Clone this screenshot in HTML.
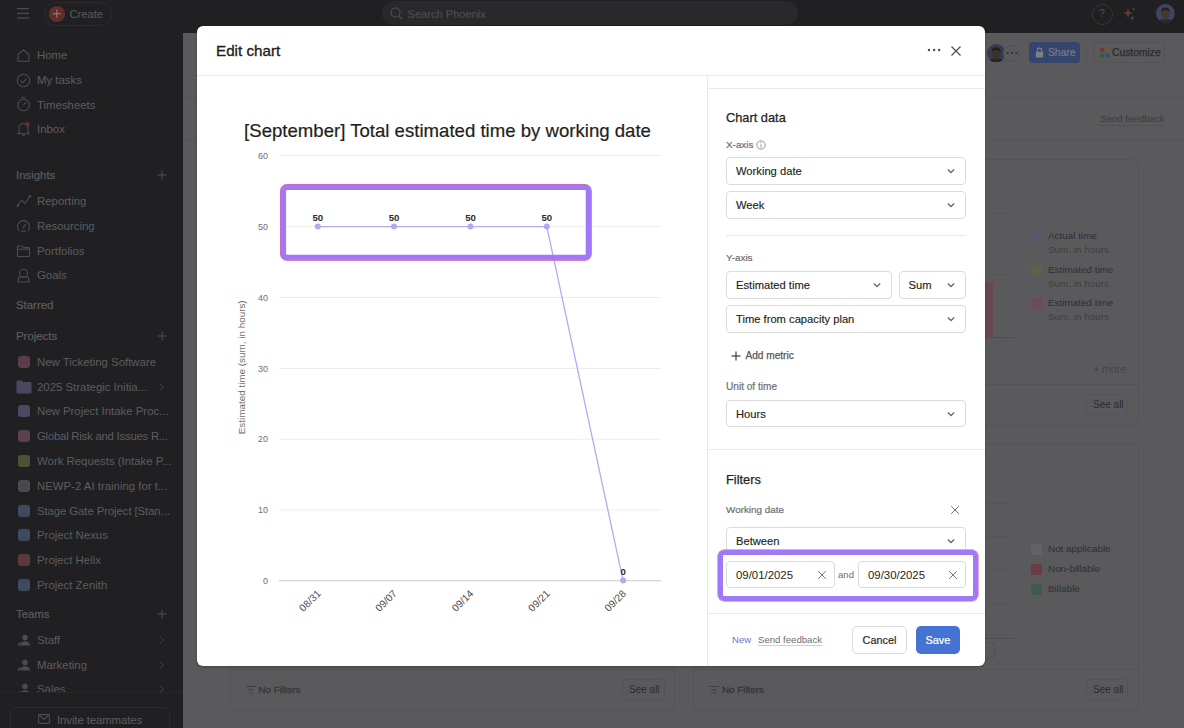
<!DOCTYPE html>
<html><head><meta charset="utf-8">
<style>
*{box-sizing:border-box;margin:0;padding:0}
html,body{width:1184px;height:728px;overflow:hidden;background:#202022;font-family:"Liberation Sans",sans-serif}
.a{position:absolute}
#side{left:0;top:0;width:183px;height:728px;background:#202022}
.si{position:absolute;left:37px;font-size:11.4px;color:#5d5d5f;white-space:nowrap;line-height:14px}
.sh{position:absolute;left:16px;font-size:11.4px;color:#5d5d5f;white-space:nowrap;line-height:14px;-webkit-text-stroke:0.2px #5d5d5f}
.pic{position:absolute;left:17.5px;width:12.5px;height:12px;border-radius:3px}
#main{left:183px;top:33px;width:1001px;height:695px;background:#5a5a5c}
#modal{left:197px;top:26px;width:788px;height:640px;background:#fff;border-radius:6px;overflow:hidden;box-shadow:0 1px 3px rgba(0,0,0,0.25)}
</style></head><body>
<div id="side" class="a">
<svg class="a" style="left:16px;top:7px" width="14" height="13"><g stroke="#4d4d4f" stroke-width="1.3"><line x1="1" y1="1.6" x2="13" y2="1.6"/><line x1="1" y1="6.3" x2="13" y2="6.3"/><line x1="1" y1="11" x2="13" y2="11"/></g></svg>
<div class="a" style="left:43.5px;top:1.5px;width:68.5px;height:24px;border:1px solid #2c2c2e;border-radius:12px"></div>
<div class="a" style="left:49px;top:6px;width:15.5px;height:15.5px;border-radius:50%;background:#642d29"></div>
<svg class="a" style="left:49px;top:6px" width="16" height="16"><g stroke="#8a8a8a" stroke-width="1"><line x1="3.7" y1="7.75" x2="11.8" y2="7.75"/><line x1="7.75" y1="3.7" x2="7.75" y2="11.8"/></g></svg>
<div class="a" style="left:69.5px;top:6.5px;font-size:11.2px;color:#5b5b5d;line-height:14px">Create</div>
<svg class="a" style="left:16px;top:48px" width="15" height="15"><path d="M2 6.5 L7.5 1.8 L13 6.5 V13.2 H2 Z" fill="none" stroke="#4d4d4f" stroke-width="1.1" stroke-linejoin="round"/></svg>
<div class="si" style="top:48.0px;">Home</div>
<svg class="a" style="left:16px;top:73px" width="15" height="15"><circle cx="7.5" cy="7.5" r="6.3" fill="none" stroke="#4d4d4f" stroke-width="1.1"/><path d="M4.6 7.6 L6.7 9.6 L10.5 5.6" fill="none" stroke="#4d4d4f" stroke-width="1.1"/></svg>
<div class="si" style="top:73.0px;">My tasks</div>
<svg class="a" style="left:16px;top:96px" width="15" height="16"><circle cx="7.5" cy="9" r="5.8" fill="none" stroke="#4d4d4f" stroke-width="1.1"/><line x1="5.5" y1="1.5" x2="9.5" y2="1.5" stroke="#4d4d4f" stroke-width="1.1"/><line x1="7.5" y1="9" x2="9.8" y2="6.6" stroke="#4d4d4f" stroke-width="1.1"/></svg>
<div class="si" style="top:97.5px;">Timesheets</div>
<svg class="a" style="left:16px;top:121px" width="15" height="16"><path d="M3 11.5 V7 a4.5 4.5 0 0 1 9 0 V11.5 L13.3 12.8 H1.7 Z" fill="none" stroke="#4d4d4f" stroke-width="1.1" stroke-linejoin="round"/><path d="M6 14.3 H9" stroke="#4d4d4f" stroke-width="1.1"/><circle cx="11.3" cy="3.2" r="2.3" fill="#6b2d28"/></svg>
<div class="si" style="top:122.0px;">Inbox</div>
<div class="sh" style="top:168.0px;">Insights</div>
<svg class="a" style="left:157px;top:170.0px" width="10" height="10"><g stroke="#4d4d4f" stroke-width="1.1"><line x1="0.5" y1="5" x2="9.5" y2="5"/><line x1="5" y1="0.5" x2="5" y2="9.5"/></g></svg>
<svg class="a" style="left:16px;top:194px" width="16" height="14"><path d="M1.5 12 L5.5 6 L9 9.5 L14 2" fill="none" stroke="#4d4d4f" stroke-width="1.1"/><circle cx="1.8" cy="11.8" r="1.2" fill="#4d4d4f"/><circle cx="14" cy="2.2" r="1.2" fill="#4d4d4f"/></svg>
<div class="si" style="top:194.0px;">Reporting</div>
<svg class="a" style="left:16px;top:219px" width="15" height="14"><path d="M3.2 11.8 a6 6 0 1 1 8.6 0" fill="none" stroke="#4d4d4f" stroke-width="1.1"/><path d="M5 12.2 H10" stroke="#4d4d4f" stroke-width="1.1"/><path d="M7.5 8.5 L9.6 5" stroke="#4d4d4f" stroke-width="1.1"/><circle cx="7.5" cy="8.5" r="1" fill="#4d4d4f"/></svg>
<div class="si" style="top:219.0px;">Resourcing</div>
<svg class="a" style="left:16px;top:244px" width="15" height="14"><path d="M1.5 2 H6 L7.3 3.6 H13.5 V12.5 H1.5 Z M1.5 5.3 H13.5" fill="none" stroke="#4d4d4f" stroke-width="1.1" stroke-linejoin="round"/></svg>
<div class="si" style="top:243.7px;">Portfolios</div>
<svg class="a" style="left:16px;top:268px" width="15" height="15"><circle cx="7.5" cy="5.2" r="4" fill="none" stroke="#4d4d4f" stroke-width="1.1"/><path d="M2 14 V12 a3 3 0 0 1 3-3 H10 a3 3 0 0 1 3 3 V14 Z" fill="none" stroke="#4d4d4f" stroke-width="1.1"/></svg>
<div class="si" style="top:268.4px;">Goals</div>
<div class="sh" style="top:297.6px;">Starred</div>
<div class="sh" style="top:328.6px;">Projects</div>
<svg class="a" style="left:157px;top:330.6px" width="10" height="10"><g stroke="#4d4d4f" stroke-width="1.1"><line x1="0.5" y1="5" x2="9.5" y2="5"/><line x1="5" y1="0.5" x2="5" y2="9.5"/></g></svg>
<div class="pic" style="top:356.0px;background:#5a3d48"></div>
<div class="si" style="top:355.0px;">New Ticketing Software</div>
<svg class="a" style="left:15.5px;top:379.6px" width="16" height="14"><path d="M0.5 1.5 Q0.5 0.5 1.5 0.5 H5.5 L7 2 H14.5 Q15.5 2 15.5 3 V12.5 Q15.5 13.5 14.5 13.5 H1.5 Q0.5 13.5 0.5 12.5 Z" fill="#4a4760"/></svg>
<svg class="a" style="left:159px;top:382.6px" width="6" height="8"><path d="M1 0.8 L4.5 4 L1 7.2" fill="none" stroke="#444446" stroke-width="1"/></svg>
<div class="si" style="top:379.6px;">2025 Strategic Initia...</div>
<div class="pic" style="top:405.0px;background:#4c4860"></div>
<div class="si" style="top:404.0px;">New Project Intake Proc...</div>
<div class="pic" style="top:430.0px;background:#5a4152"></div>
<div class="si" style="top:429.0px;letter-spacing:-0.25px">Global Risk and Issues R...</div>
<div class="pic" style="top:455.0px;background:#4a5238"></div>
<div class="si" style="top:454.0px;">Work Requests (Intake P...</div>
<div class="pic" style="top:479.6px;background:#4a4a4c"></div>
<div class="si" style="top:478.6px;">NEWP-2 AI training for t...</div>
<div class="pic" style="top:504.7px;background:#3f4a5e"></div>
<div class="si" style="top:503.7px;letter-spacing:-0.1px">Stage Gate Project [Stan...</div>
<div class="pic" style="top:529.2px;background:#3f4a5e"></div>
<div class="si" style="top:528.2px;">Project Nexus</div>
<div class="pic" style="top:553.7px;background:#5a3a38"></div>
<div class="si" style="top:552.7px;">Project Helix</div>
<div class="pic" style="top:578.8px;background:#3f4a5e"></div>
<div class="si" style="top:577.8px;">Project Zenith</div>
<div class="sh" style="top:607.0px;">Teams</div>
<svg class="a" style="left:157px;top:609.0px" width="10" height="10"><g stroke="#4d4d4f" stroke-width="1.1"><line x1="0.5" y1="5" x2="9.5" y2="5"/><line x1="5" y1="0.5" x2="5" y2="9.5"/></g></svg>
<svg class="a" style="left:16.5px;top:634.0px" width="14" height="12"><g fill="#4d4d4f"><path d="M5.2 1.2 a2.6 2.6 0 0 0 0 4.6 a3.2 3.2 0 0 1 0-4.6 Z"/><circle cx="8" cy="3.5" r="2.7"/><path d="M3 11.5 a5 4.2 0 0 1 10 0 Z"/><path d="M0.5 11.5 a3.5 3.5 0 0 1 3.2-3.3 a5.5 5 0 0 0 -1.2 3.3 Z"/></g></svg>
<div class="si" style="top:633.0px;">Staff</div>
<svg class="a" style="left:159px;top:636.0px" width="6" height="8"><path d="M1 0.8 L4.5 4 L1 7.2" fill="none" stroke="#444446" stroke-width="1"/></svg>
<svg class="a" style="left:16.5px;top:659.0px" width="14" height="12"><g fill="#4d4d4f"><path d="M5.2 1.2 a2.6 2.6 0 0 0 0 4.6 a3.2 3.2 0 0 1 0-4.6 Z"/><circle cx="8" cy="3.5" r="2.7"/><path d="M3 11.5 a5 4.2 0 0 1 10 0 Z"/><path d="M0.5 11.5 a3.5 3.5 0 0 1 3.2-3.3 a5.5 5 0 0 0 -1.2 3.3 Z"/></g></svg>
<div class="si" style="top:658.0px;">Marketing</div>
<svg class="a" style="left:159px;top:661.0px" width="6" height="8"><path d="M1 0.8 L4.5 4 L1 7.2" fill="none" stroke="#444446" stroke-width="1"/></svg>
<svg class="a" style="left:16.5px;top:683.0px" width="14" height="12"><g fill="#4d4d4f"><path d="M5.2 1.2 a2.6 2.6 0 0 0 0 4.6 a3.2 3.2 0 0 1 0-4.6 Z"/><circle cx="8" cy="3.5" r="2.7"/><path d="M3 11.5 a5 4.2 0 0 1 10 0 Z"/><path d="M0.5 11.5 a3.5 3.5 0 0 1 3.2-3.3 a5.5 5 0 0 0 -1.2 3.3 Z"/></g></svg>
<div class="si" style="top:682.0px;">Sales</div>
<svg class="a" style="left:159px;top:685.0px" width="6" height="8"><path d="M1 0.8 L4.5 4 L1 7.2" fill="none" stroke="#444446" stroke-width="1"/></svg>
<div class="a" style="left:0;top:692px;width:183px;height:36px;background:#202022;border-top:1px solid #262628"></div>
<div class="a" style="left:10px;top:707px;width:160px;height:30px;border:1px solid #2c2c2e;border-radius:5px"></div>
<svg class="a" style="left:38px;top:714px" width="12" height="10"><rect x="0.6" y="0.6" width="10.8" height="8.8" rx="1" fill="none" stroke="#4d4d4f" stroke-width="1.1"/><path d="M0.8 1 L6 5.2 L11.2 1" fill="none" stroke="#4d4d4f" stroke-width="1.1"/></svg>
<div class="si" style="left:57px;top:712.5px;letter-spacing:-0.1px">Invite teammates</div>
</div>
<div id="main" class="a">
<div class="a" style="left:0.0px;top:64.0px;width:1001.0px;height:1.0px;background:#555557"></div>
<div class="a" style="left:0.0px;top:107.0px;width:1001.0px;height:1.0px;background:#555557"></div>
<div class="a" style="left:917.0px;top:80.0px;font-size:9.7px;color:#3a3a3c;line-height:12px;white-space:nowrap;border-bottom:1px solid #515153;line-height:11.5px">Send feedback</div>
<svg class="a" style="left:803.80px;top:10.80px" width="18.40" height="18.40" viewBox="0 0 20 20"><defs><clipPath id="c996"><circle cx="10" cy="10" r="10"/></clipPath></defs><g clip-path="url(#c996)"><rect width="20" height="20" fill="#363a52"/><ellipse cx="10" cy="21" rx="9" ry="5.5" fill="#252523"/><rect x="8" y="13" width="4" height="4" fill="#3c302a"/><ellipse cx="10" cy="10" rx="4.6" ry="5.6" fill="#3c302a"/><path d="M5.2 9 Q5 3.6 10 3.6 Q15 3.6 14.8 9 Q13.5 6.2 10 6.4 Q6.5 6.2 5.2 9 Z" fill="#1f1d1c"/></g></svg>
<div class="a" style="left:820.0px;top:11.5px;width:17.0px;height:17.0px;border-radius:50%;border:1px solid #535355;background:#5a5a5c"></div>
<svg class="a" style="left:822.8px;top:18.0px" width="12" height="4"><g fill="#303032"><circle cx="1.6" cy="2" r="1.1"/><circle cx="6" cy="2" r="1.1"/><circle cx="10.4" cy="2" r="1.1"/></g></svg>
<div class="a" style="left:846.0px;top:9.0px;width:51.0px;height:21.0px;border-radius:4px;background:#34466e"></div>
<svg class="a" style="left:852.0px;top:14.0px" width="9" height="11"><path d="M2.3 5 V3.3 a2.2 2.2 0 0 1 4.4 0 V5" fill="none" stroke="#7d7f86" stroke-width="1.1"/><rect x="0.8" y="4.8" width="7.4" height="5.6" rx="1" fill="#7d7f86"/></svg>
<div class="a" style="left:865.0px;top:13.0px;font-size:10.3px;color:#7a7c84;line-height:14px;white-space:nowrap;-webkit-text-stroke:0.2px #7a7c84">Share</div>
<div class="a" style="left:903.0px;top:8.0px;width:1.0px;height:23.0px;background:#555557"></div>
<div class="a" style="left:910.0px;top:9.0px;width:72.0px;height:21.0px;border-radius:4px;border:1px solid #535355"></div>
<svg class="a" style="left:917.0px;top:15.0px" width="10" height="10"><rect x="0" y="0" width="4.3" height="4.3" rx="0.8" fill="#6b3a3a"/><rect x="5.5" y="0" width="4.3" height="4.3" rx="0.8" fill="#6b5a3a"/><rect x="0" y="5.5" width="4.3" height="4.3" rx="0.8" fill="#3a5a3f"/><rect x="5.5" y="5.5" width="4.3" height="4.3" rx="0.8" fill="#3e4a6b"/></svg>
<div class="a" style="left:929.0px;top:13.0px;font-size:10.3px;color:#2b2b2d;line-height:14px;white-space:nowrap;-webkit-text-stroke:0.25px #2b2b2d">Customize</div>
<div class="a" style="left:47.0px;top:126.0px;width:445.0px;height:267.0px;border:1px solid #545456;border-radius:7px"></div>
<div class="a" style="left:47.0px;top:410.0px;width:445.0px;height:268.0px;border:1px solid #545456;border-radius:7px"></div>
<div class="a" style="left:47.0px;top:351.0px;width:445.0px;height:1.0px;background:#545456"></div>
<div class="a" style="left:47.0px;top:636.0px;width:445.0px;height:1.0px;background:#545456"></div>
<div class="a" style="left:510.0px;top:126.0px;width:446.0px;height:267.0px;border:1px solid #545456;border-radius:7px"></div>
<div class="a" style="left:510.0px;top:410.0px;width:446.0px;height:268.0px;border:1px solid #545456;border-radius:7px"></div>
<div class="a" style="left:510.0px;top:351.0px;width:446.0px;height:1.0px;background:#545456"></div>
<div class="a" style="left:510.0px;top:636.0px;width:446.0px;height:1.0px;background:#545456"></div>
<div class="a" style="left:802.0px;top:179.5px;width:29.0px;height:1.0px;background:#555557"></div>
<div class="a" style="left:802.0px;top:240.5px;width:29.0px;height:1.0px;background:#555557"></div>
<div class="a" style="left:802.0px;top:303.5px;width:29.0px;height:1.0px;background:#4f4f51"></div>
<div class="a" style="left:802.0px;top:249.0px;width:8.0px;height:55.0px;background:#6a4650"></div>
<div class="a" style="left:848.0px;top:197.6px;width:10.5px;height:10.5px;border-radius:2px;background:#57566f"></div>
<div class="a" style="left:865.0px;top:195.6px;font-size:9.9px;color:#2f2f31;line-height:14px;white-space:nowrap;">Actual time</div>
<div class="a" style="left:865.0px;top:209.6px;font-size:9.9px;color:#3f3f41;line-height:14px;white-space:nowrap;">Sum, in hours</div>
<div class="a" style="left:848.0px;top:231.5px;width:10.5px;height:10.5px;border-radius:2px;background:#5b6546"></div>
<div class="a" style="left:865.0px;top:229.5px;font-size:9.9px;color:#2f2f31;line-height:14px;white-space:nowrap;">Estimated time</div>
<div class="a" style="left:865.0px;top:243.5px;font-size:9.9px;color:#3f3f41;line-height:14px;white-space:nowrap;">Sum, in hours</div>
<div class="a" style="left:848.0px;top:265.3px;width:10.5px;height:10.5px;border-radius:2px;background:#6d4a5b"></div>
<div class="a" style="left:865.0px;top:263.3px;font-size:9.9px;color:#2f2f31;line-height:14px;white-space:nowrap;">Estimated time</div>
<div class="a" style="left:865.0px;top:277.3px;font-size:9.9px;color:#3f3f41;line-height:14px;white-space:nowrap;">Sum, in hours</div>
<div class="a" style="left:910.0px;top:328.8px;font-size:10.5px;color:#444446;line-height:14px;white-space:nowrap;">+ more</div>
<div class="a" style="left:903.0px;top:361.0px;width:42.0px;height:21.0px;border:1px solid #545456;border-radius:4px"></div>
<div class="a" style="left:910.0px;top:364.5px;font-size:10px;color:#2c2c2e;line-height:14px;white-space:nowrap;">See all</div>
<div class="a" style="left:802.0px;top:470.4px;width:29.0px;height:1.0px;background:#555557"></div>
<div class="a" style="left:802.0px;top:503.4px;width:29.0px;height:1.0px;background:#555557"></div>
<div class="a" style="left:802.0px;top:536.4px;width:29.0px;height:1.0px;background:#555557"></div>
<div class="a" style="left:802.0px;top:571.0px;width:29.0px;height:1.0px;background:#555557"></div>
<div class="a" style="left:802.0px;top:605.0px;width:29.0px;height:1.0px;background:#4f4f51"></div>
<div class="a" style="left:848.0px;top:511.0px;width:10.5px;height:10.5px;border-radius:2px;background:#626264"></div>
<div class="a" style="left:865.0px;top:509.0px;font-size:9.9px;color:#2f2f31;line-height:14px;white-space:nowrap;">Not applicable</div>
<div class="a" style="left:848.0px;top:531.4px;width:10.5px;height:10.5px;border-radius:2px;background:#6a3d45"></div>
<div class="a" style="left:865.0px;top:529.4px;font-size:9.9px;color:#2f2f31;line-height:14px;white-space:nowrap;">Non-billable</div>
<div class="a" style="left:848.0px;top:551.3px;width:10.5px;height:10.5px;border-radius:2px;background:#3d5a4b"></div>
<div class="a" style="left:865.0px;top:549.3px;font-size:9.9px;color:#2f2f31;line-height:14px;white-space:nowrap;">Billable</div>
<div class="a" style="left:796.0px;top:609.0px;width:17.0px;height:17.0px;border-radius:50%;border:1px dashed #4a4a4c"></div>
<div class="a" style="left:903.0px;top:646.0px;width:42.0px;height:21.0px;border:1px solid #545456;border-radius:4px"></div>
<div class="a" style="left:910.0px;top:649.5px;font-size:10px;color:#2c2c2e;line-height:14px;white-space:nowrap;">See all</div>
<div class="a" style="left:439.0px;top:646.0px;width:43.0px;height:21.0px;border:1px solid #545456;border-radius:4px"></div>
<div class="a" style="left:446.0px;top:649.5px;font-size:10px;color:#2c2c2e;line-height:14px;white-space:nowrap;">See all</div>
<svg class="a" style="left:63.0px;top:652.5px" width="10" height="8"><g stroke="#3f3f41" stroke-width="1"><line x1="0" y1="0.5" x2="10" y2="0.5"/><line x1="2" y1="3.8" x2="8" y2="3.8"/><line x1="3.5" y1="7" x2="6.5" y2="7"/></g></svg>
<div class="a" style="left:75.5px;top:649.5px;font-size:9.8px;color:#363638;line-height:14px;white-space:nowrap;-webkit-text-stroke:0.3px #363638">No Filters</div>
<svg class="a" style="left:526.0px;top:652.5px" width="10" height="8"><g stroke="#3f3f41" stroke-width="1"><line x1="0" y1="0.5" x2="10" y2="0.5"/><line x1="2" y1="3.8" x2="8" y2="3.8"/><line x1="3.5" y1="7" x2="6.5" y2="7"/></g></svg>
<div class="a" style="left:539.0px;top:649.5px;font-size:9.8px;color:#363638;line-height:14px;white-space:nowrap;-webkit-text-stroke:0.3px #363638">No Filters</div>
</div>
<div class="a" style="left:382px;top:1.2px;width:416px;height:23.5px;border-radius:12px;background:#29292b"></div>
<svg class="a" style="left:390px;top:7px" width="13" height="13"><circle cx="5.5" cy="5.5" r="4.5" fill="none" stroke="#505052" stroke-width="1.1"/><line x1="8.8" y1="8.8" x2="12" y2="12" stroke="#505052" stroke-width="1.1"/></svg>
<div class="a" style="left:407.5px;top:6.5px;font-size:11.1px;color:#4e4e50;line-height:14px;-webkit-text-stroke:0.15px #4e4e50">Search Phoenix</div>
<div class="a" style="left:1091.5px;top:3.5px;width:21px;height:21px;border-radius:50%;border:1px solid #38383a"></div>
<div class="a" style="left:1091.5px;top:7px;width:21px;text-align:center;font-size:10px;color:#505052;line-height:14px">?</div>
<svg class="a" style="left:1122px;top:6px" width="16" height="16"><path d="M6 2 L7.2 5.8 L11 7 L7.2 8.2 L6 12 L4.8 8.2 L1 7 L4.8 5.8 Z" fill="#6b3a36"/><path d="M10.3 9.6 l0.7 1.8 l1.8 0.7 l-1.8 0.7 l-0.7 1.8 l-0.7-1.8 l-1.8-0.7 l1.8-0.7 Z" fill="#3e4a6b"/><path d="M11.5 1 l0.5 1.4 l1.4 0.5 l-1.4 0.5 l-0.5 1.4 l-0.5-1.4 l-1.4-0.5 l1.4-0.5 Z" fill="#6b3a36"/></svg>
<svg class="a" style="left:1156.40px;top:4.00px" width="18.80" height="18.80" viewBox="0 0 20 20"><defs><clipPath id="c1165"><circle cx="10" cy="10" r="10"/></clipPath></defs><g clip-path="url(#c1165)"><rect width="20" height="20" fill="#3f4463"/><ellipse cx="10" cy="21" rx="9" ry="5.5" fill="#2a2a28"/><rect x="8" y="13" width="4" height="4" fill="#45372f"/><ellipse cx="10" cy="10" rx="4.6" ry="5.6" fill="#45372f"/><path d="M5.2 9 Q5 3.6 10 3.6 Q15 3.6 14.8 9 Q13.5 6.2 10 6.4 Q6.5 6.2 5.2 9 Z" fill="#232120"/></g></svg>
<div id="modal" class="a">
<div class="a" style="left:19.00px;top:14.80px;font-size:15.2px;color:#1e1f21;line-height:20px;white-space:nowrap;-webkit-text-stroke:0.35px #1e1f21">Edit chart</div>
<svg class="a" style="left:729.60px;top:21.20px" width="16" height="6"><g fill="#505052"><circle cx="2" cy="3" r="1.25"/><circle cx="7.1" cy="3" r="1.25"/><circle cx="12.1" cy="3" r="1.25"/></g></svg>
<svg class="a" style="left:752.50px;top:18.50px" width="12" height="12"><g stroke="#505052" stroke-width="1.3"><line x1="1.5" y1="1.5" x2="10.5" y2="10.5"/><line x1="10.5" y1="1.5" x2="1.5" y2="10.5"/></g></svg>
<div class="a" style="left:0.00px;top:48.50px;width:788.00px;height:1.00px;background:#e9e9e9"></div>
<div class="a" style="left:510.00px;top:49.00px;width:1.00px;height:591.00px;background:#e9e9e9"></div>
<div class="a" style="left:511.00px;top:61.50px;width:277.00px;height:1.00px;background:#e9e9e9"></div>
<svg class="a" style="left:0;top:0" width="510" height="640" viewBox="197 26 510 640" font-family="Liberation Sans, sans-serif"><line x1="279" y1="155.6" x2="661.5" y2="155.6" stroke="#eeede6" stroke-width="1"/><text x="268" y="158.79999999999998" text-anchor="end" font-size="9" fill="#6d6e6f">60</text><line x1="279" y1="226.6" x2="661.5" y2="226.6" stroke="#eeede6" stroke-width="1"/><text x="268" y="229.79999999999998" text-anchor="end" font-size="9" fill="#6d6e6f">50</text><line x1="279" y1="297.5" x2="661.5" y2="297.5" stroke="#eeede6" stroke-width="1"/><text x="268" y="300.7" text-anchor="end" font-size="9" fill="#6d6e6f">40</text><line x1="279" y1="368.4" x2="661.5" y2="368.4" stroke="#eeede6" stroke-width="1"/><text x="268" y="371.59999999999997" text-anchor="end" font-size="9" fill="#6d6e6f">30</text><line x1="279" y1="439.2" x2="661.5" y2="439.2" stroke="#eeede6" stroke-width="1"/><text x="268" y="442.4" text-anchor="end" font-size="9" fill="#6d6e6f">20</text><line x1="279" y1="510" x2="661.5" y2="510" stroke="#eeede6" stroke-width="1"/><text x="268" y="513.2" text-anchor="end" font-size="9" fill="#6d6e6f">10</text><text x="268" y="583.8000000000001" text-anchor="end" font-size="9" fill="#6d6e6f">0</text><line x1="279" y1="580.6" x2="661.5" y2="580.6" stroke="#d4d4d4" stroke-width="1.3"/><polyline points="317.8,226.6 394,226.6 470.5,226.6 546.8,226.6 623.1,580.6" fill="none" stroke="#b5abf2" stroke-width="1.3"/><circle cx="317.8" cy="226.6" r="3" fill="#b3a9f3"/><text x="317.8" y="221.4" text-anchor="middle" font-size="9.6" font-weight="bold" fill="#2a2b2d">50</text><text transform="translate(321.40000000000003,594.3) rotate(-45)" text-anchor="end" font-size="10.2" fill="#4a4b4d">08/31</text><circle cx="394" cy="226.6" r="3" fill="#b3a9f3"/><text x="394" y="221.4" text-anchor="middle" font-size="9.6" font-weight="bold" fill="#2a2b2d">50</text><text transform="translate(397.6,594.3) rotate(-45)" text-anchor="end" font-size="10.2" fill="#4a4b4d">09/07</text><circle cx="470.5" cy="226.6" r="3" fill="#b3a9f3"/><text x="470.5" y="221.4" text-anchor="middle" font-size="9.6" font-weight="bold" fill="#2a2b2d">50</text><text transform="translate(474.1,594.3) rotate(-45)" text-anchor="end" font-size="10.2" fill="#4a4b4d">09/14</text><circle cx="546.8" cy="226.6" r="3" fill="#b3a9f3"/><text x="546.8" y="221.4" text-anchor="middle" font-size="9.6" font-weight="bold" fill="#2a2b2d">50</text><text transform="translate(550.4,594.3) rotate(-45)" text-anchor="end" font-size="10.2" fill="#4a4b4d">09/21</text><circle cx="623.1" cy="580.6" r="3" fill="#b3a9f3"/><text x="623.1" y="575.4" text-anchor="middle" font-size="9.6" font-weight="bold" fill="#2a2b2d">0</text><text transform="translate(626.7,594.3) rotate(-45)" text-anchor="end" font-size="10.2" fill="#4a4b4d">09/28</text><text transform="translate(245,367.3) rotate(-90)" text-anchor="middle" font-size="9.9" fill="#6d6e6f">Estimated time (sum, in hours)</text><text x="447.5" y="136.6" text-anchor="middle" font-size="18.6" fill="#1e1f21" stroke="#1e1f21" stroke-width="0.2">[September] Total estimated time by working date</text><rect x="283.7" y="187.6" width="305" height="69.3" rx="3" fill="none" stroke="#f06080" stroke-width="1" opacity="0.0"/><rect x="280.6" y="184.6" width="310.6" height="75.6" rx="6" fill="none" stroke="#f0507a" stroke-width="1"/><rect x="283.3" y="187.3" width="305.2" height="70.2" rx="3.5" fill="none" stroke="#a078fa" stroke-width="5.6"/></svg>
<div class="a" style="left:529.00px;top:83.50px;font-size:12.8px;color:#1e1f21;line-height:16px;white-space:nowrap;-webkit-text-stroke:0.25px #1e1f21">Chart data</div>
<div class="a" style="left:529.00px;top:110.50px;font-size:9.9px;color:#6d6e6f;line-height:16px;white-space:nowrap;-webkit-text-stroke:0.2px #6d6e6f">X-axis</div>
<svg class="a" style="left:559.40px;top:113.50px" width="10" height="10"><circle cx="5" cy="5" r="4.2" fill="none" stroke="#8a8a8c" stroke-width="0.9"/><line x1="5" y1="4.3" x2="5" y2="7.6" stroke="#8a8a8c" stroke-width="0.9"/><circle cx="5" cy="2.7" r="0.6" fill="#8a8a8c"/></svg>
<div class="a" style="left:529.00px;top:131.20px;width:240.30px;height:28.20px;border:1px solid #dcdbdb;border-radius:4px"></div><div class="a" style="left:539.00px;top:137.30px;font-size:11.2px;color:#1e1f21;line-height:16px;white-space:nowrap;-webkit-text-stroke:0.15px #1e1f21">Working date</div><svg class="a" style="left:749.30px;top:142.30px" width="10" height="6"><path d="M1.8 1.5 L5 4.5 L8.2 1.5" fill="none" stroke="#6a6a6c" stroke-width="1.35"/></svg>
<div class="a" style="left:529.00px;top:165.20px;width:240.30px;height:28.20px;border:1px solid #dcdbdb;border-radius:4px"></div><div class="a" style="left:539.00px;top:171.30px;font-size:11.2px;color:#1e1f21;line-height:16px;white-space:nowrap;-webkit-text-stroke:0.15px #1e1f21">Week</div><svg class="a" style="left:749.30px;top:176.30px" width="10" height="6"><path d="M1.8 1.5 L5 4.5 L8.2 1.5" fill="none" stroke="#6a6a6c" stroke-width="1.35"/></svg>
<div class="a" style="left:529.00px;top:208.80px;width:240.00px;height:1.00px;background:#e9e9e9"></div>
<div class="a" style="left:529.00px;top:224.00px;font-size:9.9px;color:#6d6e6f;line-height:16px;white-space:nowrap;-webkit-text-stroke:0.2px #6d6e6f">Y-axis</div>
<div class="a" style="left:529.00px;top:245.00px;width:165.50px;height:27.50px;border:1px solid #dcdbdb;border-radius:4px"></div><div class="a" style="left:539.00px;top:250.75px;font-size:11.2px;color:#1e1f21;line-height:16px;white-space:nowrap;-webkit-text-stroke:0.15px #1e1f21">Estimated time</div><svg class="a" style="left:674.50px;top:255.75px" width="10" height="6"><path d="M1.8 1.5 L5 4.5 L8.2 1.5" fill="none" stroke="#6a6a6c" stroke-width="1.35"/></svg>
<div class="a" style="left:701.50px;top:245.00px;width:67.50px;height:27.50px;border:1px solid #dcdbdb;border-radius:4px"></div><div class="a" style="left:711.50px;top:250.75px;font-size:11.2px;color:#1e1f21;line-height:16px;white-space:nowrap;-webkit-text-stroke:0.15px #1e1f21">Sum</div><svg class="a" style="left:749.00px;top:255.75px" width="10" height="6"><path d="M1.8 1.5 L5 4.5 L8.2 1.5" fill="none" stroke="#6a6a6c" stroke-width="1.35"/></svg>
<div class="a" style="left:529.00px;top:279.00px;width:240.00px;height:27.50px;border:1px solid #dcdbdb;border-radius:4px"></div><div class="a" style="left:539.00px;top:284.75px;font-size:11.2px;color:#1e1f21;line-height:16px;white-space:nowrap;-webkit-text-stroke:0.15px #1e1f21">Time from capacity plan</div><svg class="a" style="left:749.00px;top:289.75px" width="10" height="6"><path d="M1.8 1.5 L5 4.5 L8.2 1.5" fill="none" stroke="#6a6a6c" stroke-width="1.35"/></svg>
<svg class="a" style="left:533.50px;top:325.00px" width="10" height="10"><g stroke="#3a3a3c" stroke-width="1.2"><line x1="0.5" y1="5" x2="9.5" y2="5"/><line x1="5" y1="0.5" x2="5" y2="9.5"/></g></svg>
<div class="a" style="left:548.50px;top:322.00px;font-size:10.1px;color:#555557;line-height:16px;white-space:nowrap;-webkit-text-stroke:0.25px #555557">Add metric</div>
<div class="a" style="left:529.00px;top:352.50px;font-size:10.1px;color:#6d6e6f;line-height:16px;white-space:nowrap;-webkit-text-stroke:0.2px #6d6e6f">Unit of time</div>
<div class="a" style="left:529.00px;top:374.00px;width:240.00px;height:27.00px;border:1px solid #dcdbdb;border-radius:4px"></div><div class="a" style="left:539.00px;top:379.50px;font-size:11.2px;color:#1e1f21;line-height:16px;white-space:nowrap;-webkit-text-stroke:0.15px #1e1f21">Hours</div><svg class="a" style="left:749.00px;top:384.50px" width="10" height="6"><path d="M1.8 1.5 L5 4.5 L8.2 1.5" fill="none" stroke="#6a6a6c" stroke-width="1.35"/></svg>
<div class="a" style="left:511.00px;top:423.00px;width:277.00px;height:1.00px;background:#e9e9e9"></div>
<div class="a" style="left:529.00px;top:445.50px;font-size:12.8px;color:#1e1f21;line-height:16px;white-space:nowrap;-webkit-text-stroke:0.25px #1e1f21">Filters</div>
<div class="a" style="left:529.00px;top:476.00px;font-size:9.9px;color:#6d6e6f;line-height:16px;white-space:nowrap;-webkit-text-stroke:0.2px #6d6e6f">Working date</div>
<svg class="a" style="left:753.00px;top:479.00px" width="10" height="10"><g stroke="#707072" stroke-width="1"><line x1="1.2" y1="1.2" x2="8.8" y2="8.8"/><line x1="8.8" y1="1.2" x2="1.2" y2="8.8"/></g></svg>
<div class="a" style="left:529.00px;top:501.00px;width:240.00px;height:27.00px;border:1px solid #dcdbdb;border-radius:4px"></div><div class="a" style="left:539.00px;top:506.50px;font-size:11.2px;color:#1e1f21;line-height:16px;white-space:nowrap;-webkit-text-stroke:0.15px #1e1f21">Between</div><svg class="a" style="left:749.00px;top:511.50px" width="10" height="6"><path d="M1.8 1.5 L5 4.5 L8.2 1.5" fill="none" stroke="#6a6a6c" stroke-width="1.35"/></svg>
<div class="a" style="left:529.00px;top:535.00px;width:109.00px;height:27.00px;border:1px solid #dcdbdb;border-radius:4px"></div><div class="a" style="left:539.00px;top:541.00px;font-size:11.4px;color:#1e1f21;line-height:16px;white-space:nowrap;">09/01/2025</div><svg class="a" style="left:619.80px;top:544.00px" width="10" height="10"><g stroke="#707072" stroke-width="0.95"><line x1="1.2" y1="1.2" x2="8.8" y2="8.8"/><line x1="8.8" y1="1.2" x2="1.2" y2="8.8"/></g></svg>
<div class="a" style="left:641.00px;top:541.00px;font-size:9.6px;color:#6d6e6f;line-height:16px;white-space:nowrap;">and</div>
<div class="a" style="left:661.00px;top:535.00px;width:108.00px;height:27.00px;border:1px solid #dcdbdb;border-radius:4px"></div><div class="a" style="left:671.00px;top:541.00px;font-size:11.4px;color:#1e1f21;line-height:16px;white-space:nowrap;">09/30/2025</div><svg class="a" style="left:750.80px;top:544.00px" width="10" height="10"><g stroke="#707072" stroke-width="0.95"><line x1="1.2" y1="1.2" x2="8.8" y2="8.8"/><line x1="8.8" y1="1.2" x2="1.2" y2="8.8"/></g></svg>
<div class="a" style="left:521.20px;top:524.10px;width:259.60px;height:50.70px;border:5.8px solid #a078fa;border-radius:6px;box-shadow:0 0 0 0.5px #f0507a"></div>
<div class="a" style="left:511.00px;top:587.00px;width:277.00px;height:1.00px;background:#e9e9e9"></div>
<div class="a" style="left:535.00px;top:606.00px;font-size:9.6px;color:#7572c9;line-height:16px;white-space:nowrap;">New</div>
<div class="a" style="left:561.00px;top:606.00px;font-size:9.6px;color:#6d6e6f;line-height:16px;white-space:nowrap;text-decoration:underline;text-decoration-color:#cfcfcf;text-underline-offset:2px">Send feedback</div>
<div class="a" style="left:655.00px;top:600.00px;width:55.00px;height:28.00px;border:1px solid #dadada;border-radius:5px"></div>
<div class="a" style="left:655.00px;top:606.00px;font-size:10.9px;color:#2a2a2c;line-height:16px;white-space:nowrap;width:55px;text-align:center;-webkit-text-stroke:0.2px #2a2a2c">Cancel</div>
<div class="a" style="left:719.00px;top:600.00px;width:43.80px;height:28.00px;background:#4573d2;border-radius:5px"></div>
<div class="a" style="left:719.00px;top:606.00px;font-size:10.9px;color:#ffffff;line-height:16px;white-space:nowrap;width:43.8px;text-align:center;-webkit-text-stroke:0.2px #ffffff">Save</div>
</div>
</body></html>
